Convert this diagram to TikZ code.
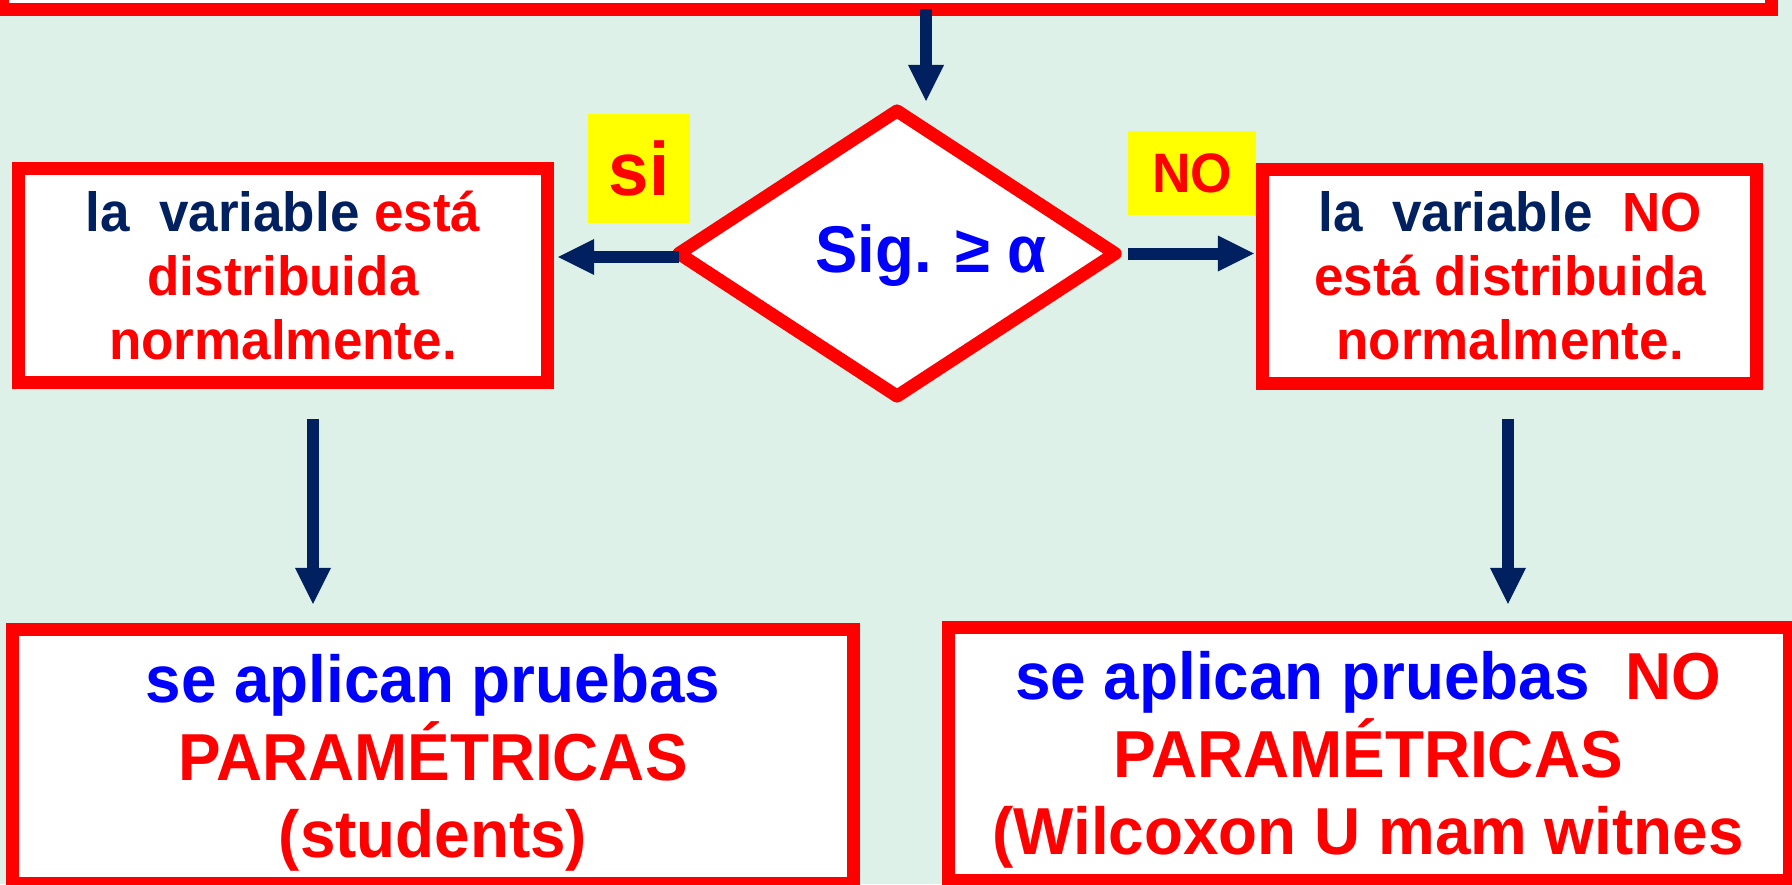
\documentclass[tikz,border=0pt]{standalone}
\usepackage{fontspec}
\setmainfont{Liberation Sans}[FakeStretch=0.96]
\usetikzlibrary{arrows.meta,shapes.geometric}
\definecolor{bgc}{HTML}{DDF1E8}
\definecolor{navy}{HTML}{002060}
\definecolor{rd}{HTML}{FF0000}
\definecolor{blu}{HTML}{0000FF}
\definecolor{yel}{HTML}{FFFF00}
\begin{document}
\begin{tikzpicture}[x=0.01cm,y=-0.01cm,
  box/.style={draw=rd, line width=0.13cm, fill=white, rectangle, inner sep=0pt, outer sep=0pt},
  dia/.style={draw=rd, line width=0.13cm, line join=round, fill=white, diamond, inner sep=0pt, outer sep=0pt},
  arr/.style={draw=navy, line width=0.12cm, -{Triangle[length=0.36cm,width=0.36cm,line width=0pt]}},
  smalltxt/.style={font=\bfseries\fontsize{15.7pt}{18.2pt}\selectfont, align=center, anchor=base, inner sep=0pt},
  bigtxt/.style={font=\bfseries\fontsize{18.9pt}{21.9pt}\selectfont, align=center, anchor=base, inner sep=0pt},
  tag/.style={fill=yel, inner sep=0pt, outer sep=0pt, text=rd}
]
\useasboundingbox (0,0) rectangle (1792,884);
\clip (0,0) rectangle (1792,884);
\fill[bgc] (0,0) rectangle (1792,884);

% boxes
\node[box, minimum width=17.685cm, minimum height=1.09cm] (tb) at (887,-45.5) {};
\node[box, minimum width=5.285cm, minimum height=2.135cm] (lb) at (282.75,275.75) {};
\node[box, minimum width=4.93cm, minimum height=2.135cm] (rb) at (1509.5,276.25) {};
\node[box, minimum width=8.40cm, minimum height=2.53cm] (bl) at (433,756.5) {};
\node[box, minimum width=8.405cm, minimum height=2.52cm] (br) at (1368.75,754) {};
\node[dia, minimum width=4.36cm, minimum height=2.85cm] (d) at (897,253.5) {};

% yellow tags
\node[tag, minimum width=1.02cm, minimum height=1.09cm, font=\bfseries\fontsize{21.5pt}{24pt}\selectfont] (si) at (639,168.5) {si};
\node[tag, minimum width=1.28cm, minimum height=0.84cm, font=\bfseries\fontsize{15.8pt}{18pt}\selectfont] (no) at (1192,173) {NO};

% texts (anchor base = baseline of the last line)
\node[smalltxt] (lbt) at (283,359) {\textcolor{navy}{la\ \ variable} \textcolor{rd}{está}\\\textcolor{rd}{distribuida}\\\textcolor{rd}{normalmente.}};
\node[smalltxt] (rbt) at (1510,359) {\textcolor{navy}{la\ \ variable}\ \ \textcolor{rd}{NO}\\\textcolor{rd}{está distribuida}\\\textcolor{rd}{normalmente.}};
\node[bigtxt] (blt) at (433,857) {\textcolor{blu}{se aplican pruebas}\\\textcolor{rd}{PARAMÉTRICAS}\\\textcolor{rd}{(students)}};
\node[bigtxt] (brt) at (1368,854) {\textcolor{blu}{se aplican pruebas}\ \ \textcolor{rd}{NO}\\\textcolor{rd}{PARAMÉTRICAS}\\\textcolor{rd}{(Wilcoxon U mam witnes}};
\node[anchor=base, inner sep=0pt, text=blu, font=\bfseries\fontsize{18.8pt}{22pt}\selectfont] (dt) at (931,272) {Sig. ≥ α};

% arrows
\coordinate (a0) at (926,101);
\draw[arr] (tb.south -| a0) -- (a0);
\draw[arr, shorten >=0.11cm] ([yshift=-0.035cm]d.west) -- ([yshift=-0.035cm]d.west -| lb.east);
\draw[arr, shorten <=0.13cm, shorten >=0.09cm] (d.east) -- (d.east -| rb.west);
\draw[arr, shorten <=0.365cm, shorten >=0.26cm] ([xshift=0.3025cm]lb.south) -- ([xshift=0.3025cm]lb.south |- bl.north);
\draw[arr, shorten <=0.36cm, shorten >=0.24cm] ([xshift=-0.015cm]rb.south) -- ([xshift=-0.015cm]rb.south |- br.north);
\end{tikzpicture}
\end{document}
